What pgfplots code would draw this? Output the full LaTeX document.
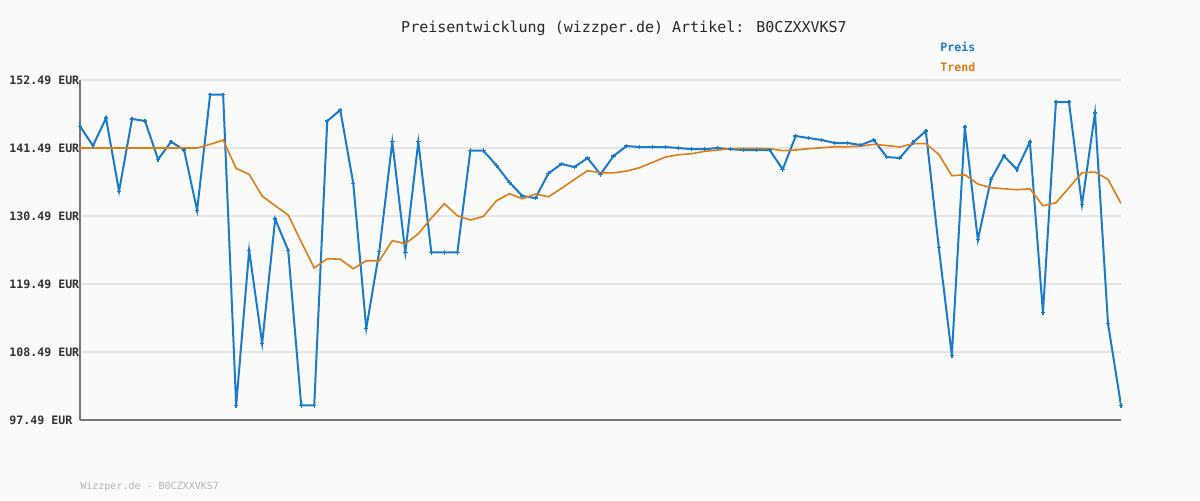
\documentclass[border=0pt]{standalone}
\usepackage{pgfplots}
\pgfplotsset{compat=1.18}
\usepackage{fontspec}
\setmainfont{DejaVu Sans Mono}

\definecolor{bg}{HTML}{FAFAFA}
\definecolor{preis}{HTML}{1A7BCB}
\definecolor{trend}{HTML}{E07E16}
\definecolor{gridc}{HTML}{E4E4E4}
\definecolor{axisc}{HTML}{777777}
\definecolor{labelc}{HTML}{333333}

\begin{document}
\begin{tikzpicture}
\fill[bg] (0,0) rectangle (600pt,250pt);
\begin{axis}[
  at={(40pt,40pt)}, anchor=south west,
  scale only axis, width=520.5pt, height=170pt,
  xmin=0, xmax=80, ymin=97.49, ymax=152.49,
  axis lines=left,
  axis line style={-, axisc, line width=0.8pt},
  xtick=\empty,
  ytick={97.49,108.49,119.49,130.49,141.49,152.49},
  yticklabels={97.49 EUR,108.49 EUR,119.49 EUR,130.49 EUR,141.49 EUR,152.49 EUR},
  major tick length=0pt,
  ymajorgrids=true,
  grid style={gridc, line width=0.7pt},
  yticklabel style={anchor=west, xshift=-35.5pt, inner sep=0pt,
    font=\fontsize{5.8}{6}\selectfont\bfseries, text=labelc},
]

% Preis
\addplot[preis, line width=1pt, mark=+, mark size=1.1pt, mark options={line width=0.7pt}]
coordinates {
  (0,145.0)(1,141.86)(2,146.34)(3,134.5)(4,146.2)(5,145.85)(6,139.65)(7,142.5)(8,141.16)(9,131.4)
  (10,150.11)(11,150.11)(12,99.85)(13,124.93)(14,109.9)(15,130.0)(16,124.93)(17,99.85)(18,99.85)(19,145.85)
  (20,147.64)(21,135.77)(22,112.31)(23,124.77)(24,142.5)(25,124.6)(26,142.5)(27,124.6)(28,124.6)(29,124.6)
  (30,141.06)(31,141.06)(32,138.69)(33,135.94)(34,133.72)(35,133.4)(36,137.39)(37,138.9)(38,138.41)(39,139.87)
  (40,137.23)(41,140.19)(42,141.81)(43,141.65)(44,141.65)(45,141.65)(46,141.49)(47,141.3)(48,141.3)(49,141.49)
  (50,141.3)(51,141.16)(52,141.16)(53,141.16)(54,138.04)(55,143.43)(56,143.1)(57,142.78)(58,142.3)(59,142.3)
  (60,141.97)(61,142.78)(62,140.03)(63,139.87)(64,142.35)(65,144.24)(66,125.36)(67,107.94)(68,144.89)(69,126.66)
  (70,136.37)(71,140.19)(72,138.04)(73,142.46)(74,114.84)(75,148.93)(76,148.93)(77,132.32)(78,147.15)(79,113.12)
  (80,99.85)
};

% Trend
\addplot[trend, line width=0.8pt, no marks]
coordinates {
  (0,141.49)(1,141.49)(2,141.49)(3,141.49)(4,141.49)(5,141.49)(6,141.49)(7,141.49)(8,141.49)(9,141.49)
  (10,142.08)(11,142.78)(12,138.2)(13,137.23)(14,133.72)(15,132.15)(16,130.65)(17,126.33)(18,122.07)(19,123.58)
  (20,123.5)(21,121.96)(22,123.25)(23,123.25)(24,126.5)(25,126.0)(26,127.62)(27,130.16)(28,132.48)(29,130.54)
  (30,129.84)(31,130.43)(32,132.96)(33,134.09)(34,133.28)(35,134.05)(36,133.6)(37,134.96)(38,136.42)(39,137.82)
  (40,137.49)(41,137.47)(42,137.76)(43,138.3)(44,139.17)(45,140.03)(46,140.4)(47,140.57)(48,140.95)(49,141.16)
  (50,141.38)(51,141.43)(52,141.43)(53,141.38)(54,141.06)(55,141.16)(56,141.38)(57,141.54)(58,141.7)(59,141.7)
  (60,141.8)(61,142.08)(62,141.9)(63,141.65)(64,142.19)(65,142.19)(66,140.46)(67,137.0)(68,137.17)(69,135.66)
  (70,135.06)(71,134.9)(72,134.74)(73,134.9)(74,132.15)(75,132.64)(76,135.06)(77,137.49)(78,137.6)(79,136.42)
  (80,132.53)
};
\end{axis}

\node[text=labelc!80!black, font=\fontsize{7.5}{8}\selectfont] at (312pt,236pt)
  {Preisentwicklung (wizzper.de) Artikel: B0CZXXVKS7};
\node[anchor=west, inner sep=0pt, text=preis, font=\fontsize{5.8}{6}\selectfont\bfseries] at (470pt,226.5pt) {Preis};
\node[anchor=west, inner sep=0pt, text=trend, font=\fontsize{5.8}{6}\selectfont\bfseries] at (470pt,216.5pt) {Trend};
\node[anchor=west, inner sep=0pt, text=black!30, font=\fontsize{5}{6}\selectfont] at (40pt,6.5pt) {Wizzper.de - B0CZXXVKS7};

\pgfresetboundingbox
\path[use as bounding box] (0,0) rectangle (600pt,250pt);
\end{tikzpicture}
\end{document}
